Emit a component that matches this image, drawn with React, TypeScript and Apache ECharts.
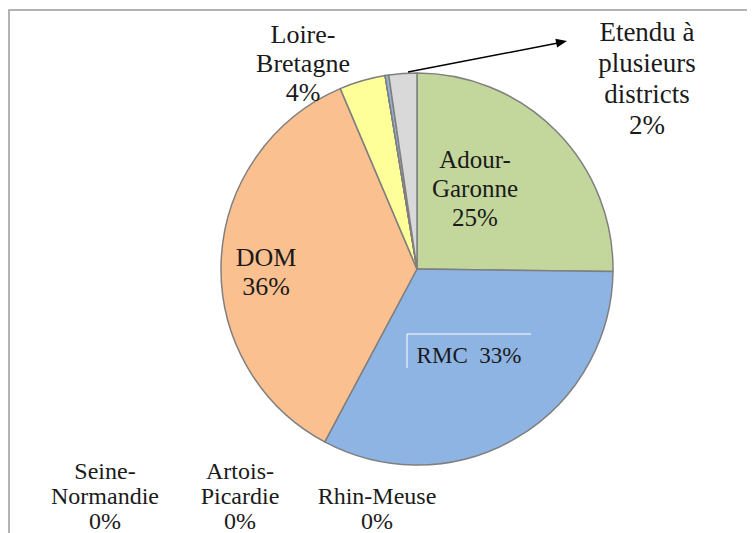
import React, { useEffect, useRef } from "react";
import * as echarts from "echarts";

const categories = [
  "Adour-\nGaronne",
  "RMC",
  "DOM",
  "Loire-\nBretagne",
  "Seine-\nNormandie",
  "Artois-\nPicardie",
  "Rhin-Meuse",
  "Etendu à\nplusieurs\ndistricts",
];
const values = [25.2, 32.6, 35.8, 3.8, 0, 0, 0.3, 2.3];
const colors = ["#C3D69B", "#8EB4E3", "#FAC090", "#FFFF99", "#8EB4E3", "#8EB4E3", "#95B3D7", "#D9D9D9"];
// label centres (chart coordinates) and label font sizes
const labelPos: [number, number][] = [
  [467, 180],
  [461, 347],
  [258, 264],
  [295, 55],
  [97, 488],
  [232, 488],
  [369, 500],
  [639, 70],
];
const labelFont = [25, 23, 26, 26, 24, 24, 24, 27];
const labelLine = [29, 26, 29, 29, 25, 25, 25, 31];

export default function App() {
  const ref = useRef<HTMLDivElement>(null);
  useEffect(() => {
    if (!ref.current) return;
    const chart = echarts.init(ref.current, null, { renderer: "svg" });
    const font = "'Times New Roman', 'Liberation Serif', serif";
    chart.setOption({
      animation: false,
      backgroundColor: "#ffffff",
      textStyle: { fontFamily: font },
      graphic: [
        {
          type: "rect",
          shape: { x: 1, y: 2, width: 900, height: 700 },
          style: { fill: "none", stroke: "#9a9a9a", lineWidth: 1.5 },
          silent: true,
        },
        {
          type: "line",
          shape: { x1: 400, y1: 64, x2: 550, y2: 35 },
          style: { stroke: "#000", lineWidth: 1.5 },
          z: 10,
        },
        {
          type: "polygon",
          shape: { points: [[559, 33], [549.1, 39.5], [547.3, 30.7]] },
          style: { fill: "#000" },
          z: 10,
        },
        {
          type: "polyline",
          shape: { points: [[399, 360], [399, 326], [523, 326]] },
          style: { stroke: "#ffffff", lineWidth: 1, fill: "none" },
          z: 10,
        },
      ],
      series: [
        {
          type: "pie",
          center: [409, 261],
          radius: 196,
          startAngle: 90,
          clockwise: true,
          avoidLabelOverlap: false,
          data: categories.map((c, i) => ({
            name: c,
            value: values[i],
            itemStyle: { color: colors[i] },
            label: { fontSize: labelFont[i], lineHeight: labelLine[i] },
          })),
          itemStyle: { borderColor: "#7f7f7f", borderWidth: 1.5 },
          label: {
            show: true,
            position: "outside",
            fontFamily: font,
            fontSize: 23,
            lineHeight: 26,
            color: "#1a1a1a",
            align: "center",
            formatter: (p: any) => {
              const pct = Math.round(p.percent);
              if (p.dataIndex === 1) return `${p.name}  ${pct}%`;
              return `${p.name}\n${pct}%`;
            },
          },
          labelLine: { show: false },
          labelLayout: (params: any) => {
            const pos = labelPos[params.dataIndex];
            return { x: pos[0], y: pos[1], align: "center", verticalAlign: "middle" };
          },
          emphasis: { disabled: true },
        },
      ],
    });
    return () => chart.dispose();
  }, []);
  return <div ref={ref} style={{ width: 747, height: 525 }} />;
}
